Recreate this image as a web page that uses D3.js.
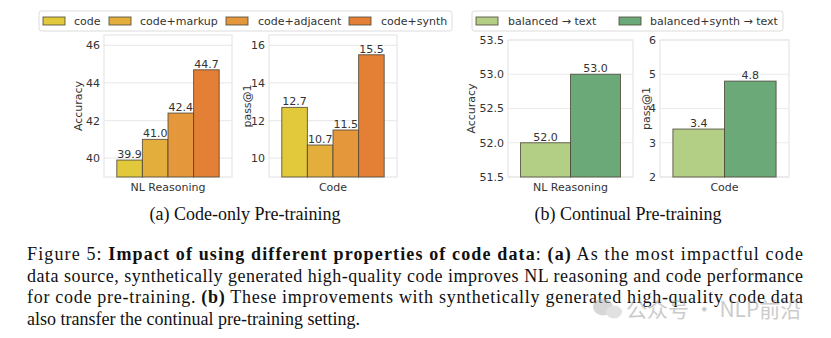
<!DOCTYPE html>
<html lang="en">
<head>
  <meta charset="UTF-8">
  <title>Impact of code data properties</title>
  <script src="https://d3js.org/d3.v7.min.js"></script>
  <style>
    body { margin: 0; background: #fff; }
    svg { display: block; }
    .tick-label { font-family: "DejaVu Sans", sans-serif; font-size: 11px; fill: #333; }
    .axis-title { font-family: "DejaVu Sans", sans-serif; font-size: 11px; fill: #333; }
    .bar-label { font-family: "DejaVu Sans", sans-serif; font-size: 11px; fill: #333; }
    .legend-text { font-family: "DejaVu Sans", sans-serif; font-size: 11px; fill: #333; }
    .cap { font-family: "Liberation Serif", "DejaVu Serif", serif; font-size: 18px; fill: #111; }
  </style>
</head>
<body>
  <svg width="831" height="338"></svg>

  <script>
    // data
    const codeSeries = ["code", "code+markup", "code+adjacent", "code+synth"];
    const codeColors = ["#e2c93b", "#e3ae3b", "#e4983b", "#e47f36"];
    const codeNL = [39.9, 41.0, 42.4, 44.7];
    const codeCode = [12.7, 10.7, 11.5, 15.5];

    const contSeries = ["balanced → text", "balanced+synth → text"];
    const contColors = ["#b3cf86", "#6ba978"];
    const contNL = [52.0, 53.0];
    const contCode = [3.4, 4.8];

    const nlTicks = [40, 42, 44, 46];
    const codeTicks = [10, 12, 14, 16];
    const contNLTicks = [51.5, 52.0, 52.5, 53.0, 53.5];
    const contCodeTicks = [2, 3, 4, 5, 6];

    const svg = d3.select("svg");

    const panels = [
      { x0: 104, x1: 232, y0: 35, y1: 177, dom: [39, 46.55], ticks: nlTicks, fmt: d3.format("d"),
        series: codeSeries, colors: codeColors, values: codeNL, ylab: "Accuracy", xlab: "NL Reasoning", ylabX: 78 },
      { x0: 269, x1: 397, y0: 35, y1: 177, dom: [9, 16.55], ticks: codeTicks, fmt: d3.format("d"),
        series: codeSeries, colors: codeColors, values: codeCode, ylab: "pass@1", xlab: "Code", ylabX: 247 },
      { x0: 508, x1: 633, y0: 40, y1: 177, dom: [51.5, 53.5], ticks: contNLTicks, fmt: d3.format(".1f"),
        series: contSeries, colors: contColors, values: contNL, ylab: "Accuracy", xlab: "NL Reasoning", ylabX: 471 },
      { x0: 660, x1: 789, y0: 40, y1: 177, dom: [2, 6], ticks: contCodeTicks, fmt: d3.format("d"),
        series: contSeries, colors: contColors, values: contCode, ylab: "pass@1", xlab: "Code", ylabX: 646 }
    ];

    panels.forEach(p => {
      const w = p.x1 - p.x0;
      const y = d3.scaleLinear().domain(p.dom).range([p.y1, p.y0]);
      const x = d3.scaleBand().domain(p.series).range([p.x0 + 0.1 * w, p.x1 - 0.1 * w]).paddingInner(0);
      const g = svg.append("g");

      // grid
      g.selectAll(".grid").data(p.ticks).join("line")
        .attr("x1", p.x0).attr("x2", p.x1)
        .attr("y1", d => y(d)).attr("y2", d => y(d))
        .attr("stroke", "#ebebeb").attr("stroke-width", 1.2);

      // frame
      g.append("rect")
        .attr("x", p.x0).attr("y", p.y0).attr("width", w).attr("height", p.y1 - p.y0)
        .attr("fill", "none").attr("stroke", "#e6e6e6").attr("stroke-width", 1.2);

      // bars
      g.selectAll(".bar").data(p.values).join("rect")
        .attr("x", (d, i) => x(p.series[i]))
        .attr("width", x.bandwidth())
        .attr("y", d => y(d))
        .attr("height", d => p.y1 - y(d))
        .attr("fill", (d, i) => p.colors[i])
        .attr("stroke", "#4a4436").attr("stroke-opacity", 0.8).attr("stroke-width", 1);

      // value labels
      g.selectAll(".bl").data(p.values).join("text")
        .attr("class", "bar-label")
        .attr("x", (d, i) => x(p.series[i]) + x.bandwidth() / 2)
        .attr("y", d => y(d) - 2)
        .attr("text-anchor", "middle")
        .text(d => d.toFixed(1));

      // y tick labels
      g.selectAll(".tl").data(p.ticks).join("text")
        .attr("class", "tick-label")
        .attr("x", p.x0 - 4)
        .attr("y", d => y(d))
        .attr("dy", "0.36em")
        .attr("text-anchor", "end")
        .text(p.fmt);

      // x label
      g.append("text").attr("class", "tick-label")
        .attr("x", (p.x0 + p.x1) / 2).attr("y", 191)
        .attr("text-anchor", "middle").text(p.xlab);

      // y title
      g.append("text").attr("class", "axis-title")
        .attr("transform", `translate(${p.ylabX},${(p.y0 + p.y1) / 2}) rotate(-90)`)
        .attr("dy", "0.36em")
        .attr("text-anchor", "middle").text(p.ylab);
    });

    // legends
    function legend(x0, x1, items, colors, patchX, textX) {
      const g = svg.append("g");
      g.append("rect").attr("x", x0).attr("y", 11).attr("width", x1 - x0).attr("height", 20)
        .attr("rx", 2.5).attr("fill", "#fff").attr("stroke", "#dcdcdc").attr("stroke-width", 1);
      items.forEach((s, i) => {
        g.append("rect").attr("x", patchX[i]).attr("y", 17).attr("width", 22).attr("height", 8)
          .attr("fill", colors[i]).attr("stroke", "#4a4436").attr("stroke-opacity", 0.8);
        g.append("text").attr("class", "legend-text").attr("x", textX[i]).attr("y", 21)
          .attr("dy", "0.36em").text(s);
      });
    }
    legend(39, 452, codeSeries, codeColors, [43, 109, 226, 349], [74, 140, 258, 381]);
    legend(472, 783, contSeries, contColors, [476, 619], [508, 650]);

    // sub captions
    svg.append("text").attr("class", "cap").attr("x", 245).attr("y", 220)
      .attr("text-anchor", "middle").text("(a) Code-only Pre-training");
    svg.append("text").attr("class", "cap").attr("x", 628).attr("y", 220)
      .attr("text-anchor", "middle").text("(b) Continual Pre-training");

    // figure caption
    const lines = [
      [["Figure 5: ", false], ["Impact of using different properties of code data", true], [": ", false], ["(a)", true], [" As the most impactful code", false]],
      [["data source, synthetically generated high-quality code improves NL reasoning and code performance", false]],
      [["for code pre-training. ", false], ["(b)", true], [" These improvements with synthetically generated high-quality code data", false]],
      [["also transfer the continual pre-training setting.", false]]
    ];
    const capLeft = 27, capRight = 803;
    lines.forEach((ln, i) => {
      const t = svg.append("text").attr("class", "cap")
        .attr("x", capLeft).attr("y", 260 + i * 21.5);
      ln.forEach(([s, b]) => t.append("tspan").attr("font-weight", b ? "bold" : "normal").text(s));
      if (i < lines.length - 1) {
        t.attr("textLength", capRight - capLeft).attr("lengthAdjust", "spacing");
      }
    });

    // watermark
    const wm = svg.append("g").attr("opacity", 0.5);
    wm.append("ellipse").attr("cx", 603).attr("cy", 307).attr("rx", 10).attr("ry", 8.5).attr("fill", "#b0b0b0");
    wm.append("ellipse").attr("cx", 614).attr("cy", 312).attr("rx", 8).attr("ry", 6.5).attr("fill", "#c4c4c4");
    wm.append("text").attr("x", 626).attr("y", 317)
      .attr("font-family", "'Noto Sans CJK SC', sans-serif").attr("font-size", 21)
      .attr("fill", "#999").text("公众号 · NLP前沿");
  </script>
</body>
</html>
